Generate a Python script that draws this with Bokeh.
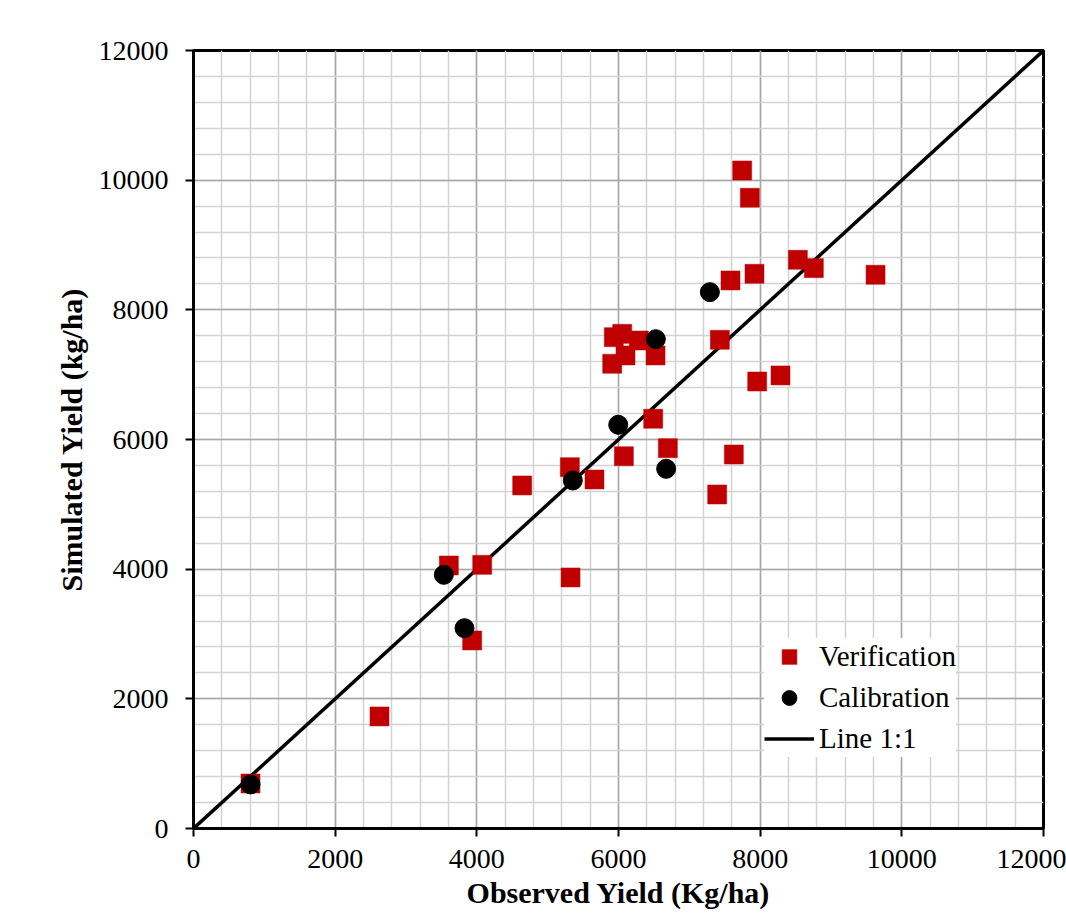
from bokeh.plotting import figure
from bokeh.models import Range1d, SingleIntervalTicker, Legend, LegendItem
from bokeh.embed import file_html
from bokeh.resources import INLINE

# ---- data ----
verif_x = [805, 2626, 3605, 4076, 3934, 5323, 4640, 5313, 5661, 5934,
           6052, 5911, 6099, 6287, 6523, 6490, 6697, 6076, 7628, 7393,
           7431, 7958, 8287, 7746, 7854, 8532, 8758, 7920, 7581, 9629]
verif_y = [694, 1728, 4057, 4067, 2900, 3872, 5291, 5573, 5383, 7578,
           7630, 7168, 7296, 7527, 7296, 6320, 5866, 5742, 5769, 5152,
           7538, 6895, 6988, 10150, 9729, 8772, 8643, 8556, 8453, 8541]

calib_x = [805, 3534, 3826, 5355, 5996, 6673, 6527, 7290]
calib_y = [680, 3913, 3090, 5368, 6227, 5548, 7547, 8273]

line_x = [0, 12000]
line_y = [0, 12000]

x_title = "Observed Yield (Kg/ha)"
y_title = "Simulated Yield (kg/ha)"
series_names = ["Verification", "Calibration", "Line 1:1"]

FONT = "Liberation Serif"
RED = "#C00000"

p = figure(width=1066, height=918, output_backend="svg", toolbar_location=None,
           x_range=Range1d(0, 12000), y_range=Range1d(0, 12000),
           min_border_left=193, min_border_right=23, min_border_top=50,
           min_border_bottom=90)

p.background_fill_color = "white"
p.border_fill_color = "white"
p.outline_line_color = "black"
p.outline_line_width = 3

for ax in (p.xaxis[0], p.yaxis[0]):
    ax.ticker = SingleIntervalTicker(interval=2000, num_minor_ticks=5)
    ax.axis_line_color = "black"
    ax.axis_line_width = 3
    ax.major_tick_line_color = "black"
    ax.major_tick_line_width = 2
    ax.major_tick_out = 8
    ax.major_tick_in = 0
    ax.minor_tick_line_color = None
    ax.major_label_text_font = FONT
    ax.major_label_text_font_size = "28px"
    ax.major_label_text_color = "black"
    ax.axis_label_text_font = FONT
    ax.axis_label_text_font_size = "30px"
    ax.axis_label_text_font_style = "bold"
    ax.axis_label_text_color = "black"

p.xaxis.axis_label = x_title
p.yaxis.axis_label = y_title
p.xaxis.major_label_standoff = 13
p.xaxis.axis_label_standoff = 5
p.yaxis.major_label_standoff = 17
p.yaxis.axis_label_standoff = 8

for g in (p.xgrid[0], p.ygrid[0]):
    g.grid_line_color = "#a6a6a6"
    g.grid_line_width = 1.5
    g.minor_grid_line_color = "#d2d2d2"
    g.minor_grid_line_width = 1.5

ln = p.line(line_x, line_y, line_color="black", line_width=3.5)
sq = p.scatter(verif_x, verif_y, marker="square", size=19,
               fill_color=RED, line_color=RED, line_width=0.5)
ci = p.scatter(calib_x, calib_y, marker="circle", size=19,
               fill_color="black", line_color="black")

legend = Legend(items=[LegendItem(label=series_names[0], renderers=[sq]),
                       LegendItem(label=series_names[1], renderers=[ci]),
                       LegendItem(label=series_names[2], renderers=[ln])],
                location=(571, 71))
legend.background_fill_color = "white"
legend.background_fill_alpha = 1
legend.border_line_color = None
legend.label_text_font = FONT
legend.label_text_font_size = "29px"
legend.label_text_color = "black"
legend.glyph_width = 50
legend.glyph_height = 37
legend.label_height = 37
legend.spacing = 4
legend.padding = 4
legend.margin = 0
legend.label_standoff = 5
p.add_layout(legend)

open("out.html", "w").write(file_html(p, INLINE))
